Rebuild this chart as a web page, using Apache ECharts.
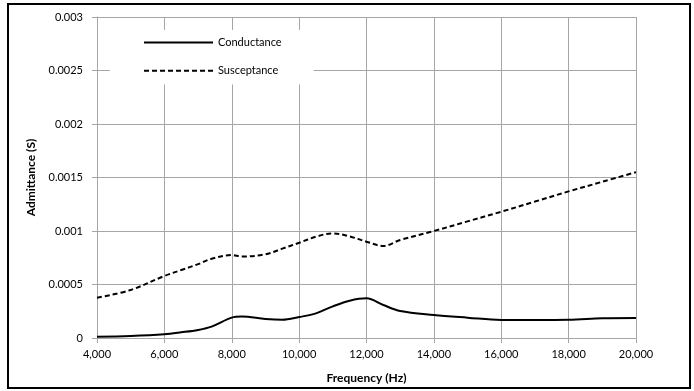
<!DOCTYPE html>
<html>
<head>
<meta charset="utf-8">
<script src="https://cdn.jsdelivr.net/npm/echarts@6/dist/echarts.min.js"></script>
<style>
  html, body { margin: 0; padding: 0; background: #fff; }
  #chart { width: 694px; height: 391px; }
</style>
</head>
<body>
<div id="chart"></div>
<script>
// Frequency samples (Hz)
const frequencies = [4000, 5000, 6000, 6500, 7000, 7400, 8000, 8300, 9000, 9500, 10000, 10500, 11000,
  11500, 12000, 12500, 13000, 14000, 15000, 16000, 17000, 18000, 19000, 20000];

// Admittance values (S)
const conductance = [0.000012, 0.000019, 0.000035, 0.000053, 0.000075, 0.000106, 0.00019, 0.0002,
  0.000178, 0.000171, 0.000196, 0.00023, 0.000296, 0.000349, 0.000371, 0.000308, 0.000252,
  0.000215, 0.00019, 0.000168, 0.000168, 0.00017, 0.000184, 0.000187];

const susceptance = [0.000377, 0.000449, 0.00058, 0.000635, 0.00069, 0.00074, 0.000776, 0.000762,
  0.000782, 0.000835, 0.00089, 0.000947, 0.000978, 0.00095, 0.0009, 0.00086, 0.000916,
  0.001, 0.00109, 0.00118, 0.001275, 0.00137, 0.00146, 0.00155];

const seriesNames = ['Conductance', 'Susceptance'];

const FONT = 'Lato, "Open Sans", sans-serif';
const GRID_COLOR = '#a6a6a6';

function pairs(values) {
  return frequencies.map((f, i) => [f, values[i]]);
}

const chart = echarts.init(document.getElementById('chart'));

chart.setOption({
  animation: false,
  backgroundColor: '#fff',
  textStyle: { fontFamily: FONT, color: '#000' },
  grid: { left: 97, right: 58, top: 17, bottom: 53 },
  legend: {
    orient: 'vertical',
    left: 110,
    top: 30,
    padding: [7, 32, 8, 33],
    itemWidth: 69,
    itemHeight: 14,
    itemGap: 17,
    backgroundColor: '#fff',
    data: seriesNames,
    // hide the marker dot, keep only the line sample
    itemStyle: { color: 'rgba(0,0,0,0)', borderWidth: 0, opacity: 0 },
    textStyle: { fontFamily: FONT, fontSize: 11, color: '#000' }
  },
  xAxis: {
    type: 'value',
    min: 4000,
    max: 20000,
    interval: 2000,
    name: 'Frequency (Hz)',
    nameLocation: 'middle',
    nameGap: 34,
    nameTextStyle: { fontFamily: FONT, fontSize: 12, fontWeight: 'bold', color: '#000' },
    axisLine: { show: true, lineStyle: { color: GRID_COLOR, width: 1 } },
    axisTick: { show: true, length: 5, lineStyle: { color: GRID_COLOR } },
    axisLabel: {
      margin: 11,
      fontSize: 11,
      color: '#000',
      formatter: (v) => v.toLocaleString('en-US')
    },
    splitLine: { show: true, lineStyle: { color: GRID_COLOR, width: 1 } }
  },
  yAxis: {
    type: 'value',
    min: 0,
    max: 0.003,
    interval: 0.0005,
    name: 'Admittance (S)',
    nameLocation: 'middle',
    nameGap: 58,
    nameTextStyle: { fontFamily: FONT, fontSize: 12, fontWeight: 'bold', color: '#000' },
    axisLine: { show: true, lineStyle: { color: GRID_COLOR, width: 1 } },
    axisTick: { show: true, length: 5, lineStyle: { color: GRID_COLOR } },
    axisLabel: {
      margin: 14,
      fontSize: 11,
      color: '#000',
      formatter: (v) => String(parseFloat(v.toFixed(4)))
    },
    splitLine: { show: true, lineStyle: { color: GRID_COLOR, width: 1 } }
  },
  graphic: [{
    type: 'rect',
    shape: { x: 8, y: 4, width: 682, height: 384 },
    style: { fill: 'none', stroke: '#000', lineWidth: 2 },
    silent: true
  }],
  series: [
    {
      name: seriesNames[0],
      type: 'line',
      data: pairs(conductance),
      symbol: 'none',
      smooth: 0.35,
      lineStyle: { color: '#000', width: 2 },
      itemStyle: { color: '#000' }
    },
    {
      name: seriesNames[1],
      type: 'line',
      data: pairs(susceptance),
      symbol: 'none',
      smooth: 0.35,
      lineStyle: { color: '#000', width: 2, type: [5, 3] },
      itemStyle: { color: '#000' }
    }
  ]
});
</script>
</body>
</html>
